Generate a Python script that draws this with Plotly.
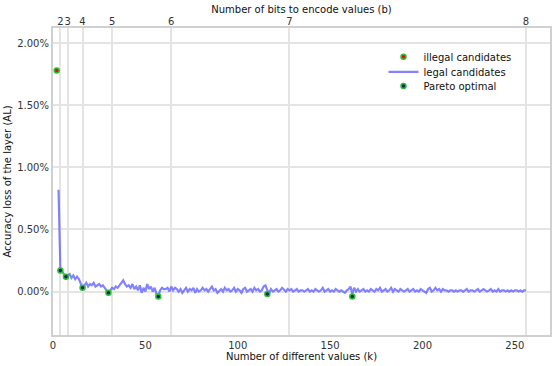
import plotly.graph_objects as go

# accuracy loss in percent
illegal_k = [2]
illegal_al = [1.78]

legal_al = [
    0.82, 0.17, 0.16, 0.14, 0.12, 0.13, 0.14, 0.11, 0.13, 0.10,  # k3-12
    0.12, 0.10, 0.07, 0.03, 0.05, 0.07, 0.04, 0.06, 0.05, 0.07,  # k13-22
    0.04, 0.05, 0.06, 0.04, 0.05, 0.03, 0.01, -0.01, 0.01, 0.03,  # k23-32
    0.02, 0.04, 0.03, 0.05, 0.07, 0.09, 0.06, 0.04, 0.05, 0.03,  # k33-42
    0.06, 0.02, 0.04, 0.01, 0.05, -0.01, 0.03, 0.00, 0.06, 0.02,  # k43-52
    0.04, 0.00, 0.03, -0.02, -0.03, 0.01, 0.03, 0.02,  # k53-60
    0.02, 0.03, 0.00, 0.04, 0.01, 0.03, 0.02, 0.00, 0.02, -0.01,
    0.01, 0.03, 0.00, 0.02, 0.01, 0.03, -0.01, 0.02, 0.00, 0.01,
    0.03, 0.01, 0.02, 0.00, 0.02, 0.04, 0.01, 0.02, -0.01, 0.01,
    0.02, 0.00, 0.03, 0.01, 0.02, 0.00, 0.01, 0.03, 0.00, 0.02,
    0.01, -0.01, 0.02, 0.03, 0.00, 0.01, 0.02, 0.00, 0.03, 0.01,
    0.02, 0.00, 0.01, 0.04, 0.05, 0.01, -0.01, 0.02, 0.00, 0.01,
    0.02, 0.00, 0.01, 0.03, 0.01, 0.00, 0.02, 0.01, 0.02, 0.00,
    0.01, 0.02, 0.00, 0.01, 0.01, 0.00, 0.01, 0.02, 0.00, 0.01,
    0.00, 0.02, 0.01, 0.00, 0.01, 0.03, 0.00, 0.01, 0.02, 0.00,
    0.01, 0.00, 0.02, 0.01, 0.00, 0.01, 0.00, -0.01, 0.01, 0.02,
    0.04, -0.02, 0.03, 0.00, 0.02, 0.00, 0.01, 0.02, 0.00, 0.01,
    0.00, 0.02, 0.01, 0.00, 0.02, 0.01, 0.03, 0.00, 0.01, 0.02,
    0.00, 0.01, 0.03, 0.00, 0.02, 0.01, 0.00, 0.02, 0.01, 0.00,
    0.01, 0.02, 0.00, 0.01, 0.02, 0.00, 0.01, 0.00, 0.02, 0.01,
    0.00, -0.01, 0.02, 0.03, 0.00, 0.01, 0.03, 0.01, 0.02, 0.00,
    0.02, 0.01, 0.01, 0.00, 0.01, 0.01, 0.00, 0.01, 0.00, 0.01,
    0.01, 0.00, 0.01, 0.02, 0.00, 0.01, 0.01, 0.00, 0.01, 0.02,
    0.00, 0.01, 0.02, 0.01, 0.00, 0.01, 0.02, 0.00, 0.01, 0.00,
    0.02, 0.00, 0.01, 0.01, 0.00, 0.01, 0.00, 0.01, 0.00, 0.01,
    0.01, 0.00, 0.01, 0.00, 0.01, 0.01,  # k251-256
]
legal_k = list(range(3, 3 + len(legal_al)))

pareto_k = [4, 7, 16, 30, 57, 116, 162]
pareto_al = [0.17, 0.12, 0.03, -0.01, -0.04, -0.02, -0.04]

bits_k = [4, 8, 16, 32, 64, 128, 256]
bits_lbl = ['2', '3', '4', '5', '6', '7', '8']

al_ticks = [0, 0.5, 1, 1.5, 2]
al_lbl = ['0.00%', '0.50%', '1.00%', '1.50%', '2.00%']

FONT = 'DejaVu Sans'
GRID = '#e4e4e4'
TICK = dict(size=10, color='#333')
TITLE = dict(size=10, color='#111')

fig = go.Figure()
fig.add_scatter(x=illegal_k, y=illegal_al, mode='markers', name='illegal candidates',
                legend='legend',
                marker=dict(color='#e01010', size=5, line=dict(color='#33bb33', width=1.5)))
fig.add_scatter(x=legal_k, y=legal_al, mode='lines', name='legal candidates',
                legend='legend2',
                line=dict(color='rgba(100,100,255,0.8)', width=2.2))
fig.add_scatter(x=pareto_k, y=pareto_al, mode='markers', name='Pareto optimal',
                legend='legend3',
                marker=dict(color='#0a2a6a', size=5, line=dict(color='#33bb33', width=1.5)))
# invisible trace to carry the top axis
fig.add_scatter(x=bits_k, y=[None] * len(bits_k), xaxis='x2', showlegend=False,
                hoverinfo='skip', mode='markers')

leg = dict(x=0.665, xanchor='left', yanchor='middle', bgcolor='rgba(0,0,0,0)',
           font=dict(size=10, color='#111'))

fig.update_layout(
    width=552, height=366,
    margin=dict(l=53, r=2, t=28, b=31, autoexpand=False),
    paper_bgcolor='white', plot_bgcolor='white',
    font=dict(family=FONT, size=10, color='#222'),
    showlegend=True,
    legend=dict(leg, y=0.906),
    legend2=dict(leg, y=0.857),
    legend3=dict(leg, y=0.811),
    xaxis=dict(range=[0, 269], tickvals=[0, 50, 100, 150, 200, 250],
               showgrid=False, zeroline=False, showline=True, mirror=True,
               linecolor='#d0d0d0', linewidth=2, ticks='', tickangle=0,
               title=dict(text='Number of different values (k)', standoff=0, font=TITLE),
               tickfont=TICK),
    xaxis2=dict(range=[0, 269], overlaying='x', side='top', anchor='y',
                tickvals=bits_k, ticktext=bits_lbl, showgrid=True, tickangle=0,
                gridcolor=GRID, gridwidth=2, zeroline=False, ticks='',
                title=dict(text='Number of bits to encode values (b)', standoff=0, font=TITLE),
                tickfont=TICK),
    yaxis=dict(range=[-0.35, 2.123], tickvals=al_ticks, ticktext=al_lbl,
               showgrid=True, gridcolor=GRID,
               gridwidth=2, zeroline=False, showline=True, mirror=True,
               linecolor='#d0d0d0', linewidth=2, ticks='',
               title=dict(text='Accuracy loss of the layer (AL)', standoff=4, font=TITLE),
               tickfont=TICK),
)

# drop the browser's default body margin so the figure fills the window
fig.write_html('out.html', config={'displayModeBar': False},
               post_script="document.body.style.margin = '0';")
